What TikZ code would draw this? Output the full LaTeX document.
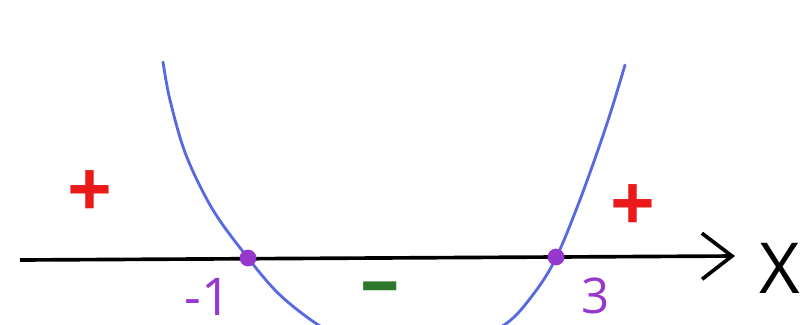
\documentclass[tikz,border=0pt]{standalone}
\usepackage{fontspec}
\setsansfont{Open Sans}
\usetikzlibrary{positioning,arrows.meta}
\definecolor{curveblue}{RGB}{85,105,225}
\definecolor{rootpurple}{RGB}{150,55,205}
\definecolor{signred}{RGB}{235,25,25}
\definecolor{signgreen}{RGB}{45,120,45}

\begin{document}
\begin{tikzpicture}[x=0.025cm, y=-0.025cm,
  sign/.style={font=\sffamily\bfseries\fontsize{56}{56}\selectfont, inner sep=0pt},
  rootlbl/.style={text=rootpurple, font=\sffamily\fontsize{37}{37}\selectfont, inner sep=0pt, text depth=0pt},
  root/.style={circle, fill=rootpurple, inner sep=0pt, minimum size=0.42cm},
  axis/.style={line width=2.6pt, -{Straight Barb[length=0.75cm, width=1.15cm]}},
  curve/.style={draw=curveblue, line width=2pt, line cap=round}]
\useasboundingbox (0,0) rectangle (803,324);
\fill[white] (0,0) rectangle (803,324);
% the parabola
\begin{scope}
  \clip (0,0) rectangle (803,324);
  \draw[curve] plot[smooth, tension=0.55] coordinates {(163,62) (170,100) (186,155) (213,210) (248,258) (280,295) (320,326) (360,345) (410,350) (465,342) (507,323) (535,292) (556,258) (578,205) (598,150) (612,108) (625,65)};
\end{scope}
% x axis
\coordinate (axstart) at (20,260);
\coordinate (axend) at (735,256);
\draw[axis] (axstart) -- (axend);
\node[font=\sffamily\fontsize{50}{50}\selectfont, inner sep=0pt, text depth=0pt] (xlbl) at (780,268) {X};
% roots
\node[rootlbl] (lblA) at (208,297) {-1};
\node[rootlbl, font=\sffamily\fontsize{35}{35}\selectfont] (lblB) at (596,296) {3};
\node[root] (rootA) at (248,258) {};
\node[root] (rootB) at (556,257) {};
% signs
\node[sign, text=signred] (plusL) at (90,194) {+};
\node[sign, text=signred] (plusR) at (633,208) {+};
\node[sign, text=signgreen] (minusM) at (380,295) {–};
\end{tikzpicture}
\end{document}
